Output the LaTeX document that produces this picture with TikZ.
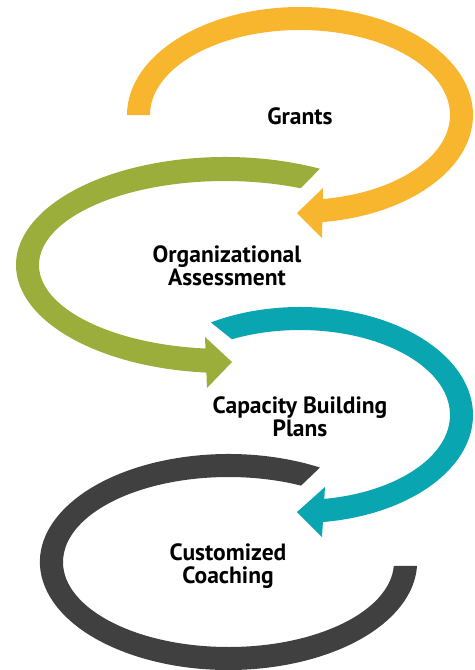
\documentclass[tikz,border=0pt]{standalone}
\usepackage{fontspec}
\setmainfont{PT Sans}

\definecolor{grantsyellow}{RGB}{248,181,46}
\definecolor{assessgreen}{RGB}{155,173,59}
\definecolor{planteal}{RGB}{9,165,176}
\definecolor{coachgrey}{RGB}{64,64,64}

\tikzset{
  steplabel/.style={align=center, font=\fontsize{13.4pt}{13pt}\selectfont\bfseries}
}

\begin{document}
\begin{tikzpicture}[x=0.02cm, y=0.02cm]
    \useasboundingbox (0,0) rectangle (474,-670);

    % centres of the four loops
    \coordinate (grantsc) at (300,-115);
    \coordinate (assessc) at (225,-265);
    \coordinate (plansc) at (300,-415);
    \coordinate (coachc) at (228.5,-562);

    % Grants loop
    \fill[grantsyellow]
      ([shift={(180:173 and 108)}]grantsc)
        arc[start angle=180, end angle=-83.5, x radius=173, y radius=108]
      -- ([shift={(-82.5:150 and 85)}]grantsc)
        arc[start angle=-82.5, end angle=180, x radius=150, y radius=85]
      -- cycle;
    \fill[grantsyellow] (323,-188) -- (297,-213) -- (322,-238) -- cycle;

    % Assessment loop
    \fill[assessgreen]
      ([shift={(63:209 and 108)}]assessc)
        arc[start angle=63, end angle=266, x radius=209, y radius=108]
      -- ([shift={(265:186 and 84)}]assessc)
        arc[start angle=265, end angle=66, x radius=186, y radius=84]
      -- cycle;
    \fill[assessgreen] (205,-337) -- (232,-362) -- (207,-388) -- cycle;

    % Plans loop
    \fill[planteal]
      ([shift={(121:173 and 108)}]plansc)
        arc[start angle=121, end angle=-83.5, x radius=173, y radius=108]
      -- ([shift={(-82.5:150 and 85)}]plansc)
        arc[start angle=-82.5, end angle=117, x radius=150, y radius=85]
      -- cycle;
    \fill[planteal] (325,-487) -- (297,-512) -- (322,-537) -- cycle;

    % Coaching loop
    \fill[coachgrey]
      ([shift={(61:188.6 and 108)}]coachc)
        arc[start angle=61, end angle=358, x radius=188.6, y radius=108]
      -- ([shift={(357.3:165.5 and 85)}]coachc)
        arc[start angle=357.3, end angle=64, x radius=165.5, y radius=85]
      -- cycle;

    \node[steplabel] (grants) at (300,-116) {Grants};
    \node[steplabel] (assessment) at (227,-266) {Organizational\\Assessment};
    \node[steplabel] (plans) at (300,-417) {Capacity Building\\Plans};
    \node[steplabel] (coaching) at (228,-566) {Customized\\Coaching};
\end{tikzpicture}
\end{document}
